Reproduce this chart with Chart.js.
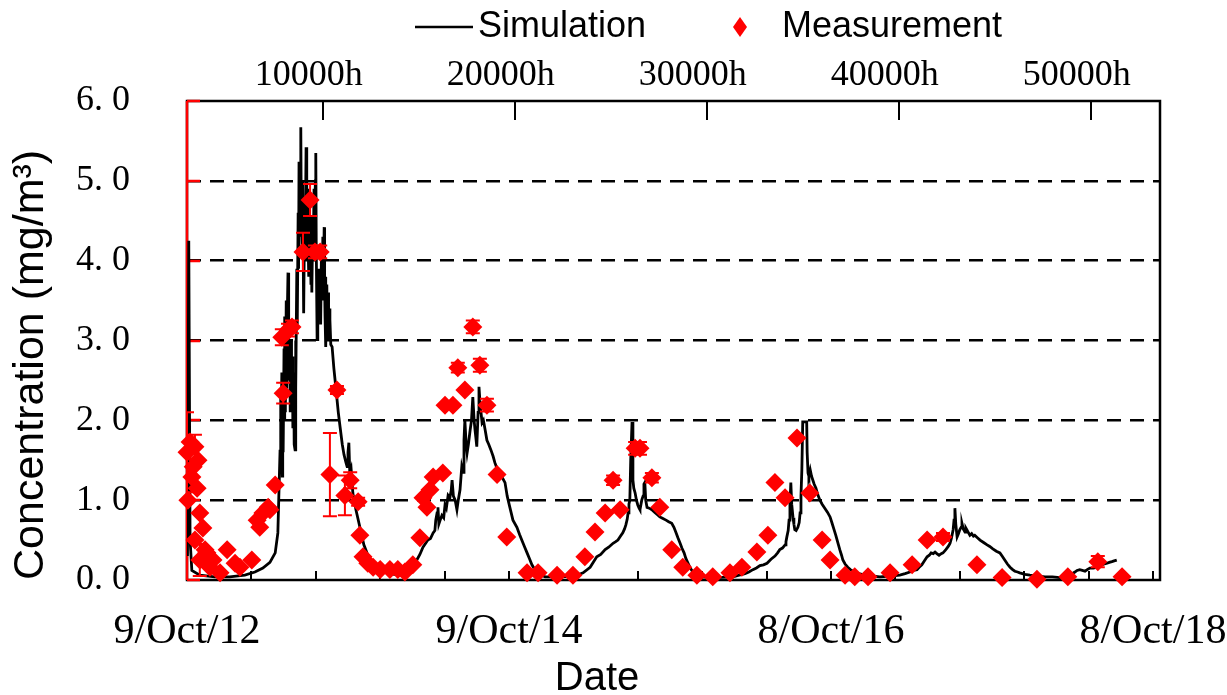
<!DOCTYPE html>
<html>
<head>
<meta charset="utf-8">
<script src="https://cdn.jsdelivr.net/npm/chart.js@4/dist/chart.umd.min.js"></script>
<style>
  html, body { margin: 0; padding: 0; background: #fff; }
  canvas { display: block; }
</style>
</head>
<body>
<canvas id="chart" width="1227" height="695"></canvas>
<script>
// Simulated concentration (days since 9 Oct 2012 -> mg/m3)
const simDays = [
  1, 4, 7, 11, 29, 63, 97, 131, 154, 172, 188, 200, 206,
  211, 212, 213, 215, 216, 217, 218, 220, 221, 222, 223, 225, 226, 227, 229, 230, 231, 233, 234, 236,
  237, 239, 240, 242, 243, 245, 246, 247, 249, 250, 252, 253, 254, 255, 257, 258, 259, 261, 262, 263,
  264, 265, 267, 268, 270, 271, 272, 273, 274, 276, 277, 278, 279, 281, 282, 283, 285, 286, 288, 289,
  291, 292, 293, 295, 296, 297, 299, 300, 302, 303, 305, 306, 308, 309, 311, 312, 313, 314, 315, 317,
  318, 320, 321, 322, 324, 326, 329,
  333, 338, 343, 347, 352, 356, 360, 363, 365, 367, 369, 372, 376, 383, 392, 401, 408, 419,
  438, 460, 483, 506, 521, 528, 535, 540, 546, 552, 558, 562, 564, 567, 569, 571, 574, 578, 582, 585,
  588, 592, 596, 599, 601, 604, 608, 612, 615, 619, 623, 626, 628, 630, 633, 635, 638, 642, 645, 648,
  651, 653, 655, 657, 660, 662, 664, 666, 669, 672, 676, 680, 684, 689, 694, 698, 704, 710, 715, 721,
  726, 732, 739, 748, 754, 759, 765, 771, 777, 782, 793, 812, 846, 880, 898, 914, 929, 938, 948, 956,
  966, 972, 977, 983, 988, 992, 995, 998, 1000, 1002, 1004, 1006, 1009, 1011, 1013, 1016, 1019, 1022, 1025, 1027,
  1031, 1034, 1036, 1038, 1040, 1043, 1048, 1054, 1060, 1066, 1072, 1079, 1086, 1092, 1099, 1104, 1109, 1113, 1118, 1122,
  1127, 1131, 1136, 1141, 1147, 1155, 1163, 1197, 1238, 1252, 1265, 1274, 1283, 1291, 1299, 1307, 1315, 1324, 1333, 1339,
  1344, 1350, 1356, 1358, 1360, 1363, 1365, 1367, 1369, 1371, 1374, 1376, 1378, 1381, 1385, 1388, 1390, 1392, 1394, 1396,
  1400, 1405, 1406, 1408, 1410, 1413, 1416, 1419, 1422, 1426, 1430, 1435, 1440, 1446, 1452, 1458, 1462, 1467, 1471, 1474,
  1477, 1480, 1484, 1487, 1492, 1498, 1504, 1510, 1523, 1537, 1571, 1595, 1616, 1628, 1639, 1647, 1655, 1660, 1666, 1672,
  1678, 1683, 1687, 1692, 1696, 1700, 1705, 1710, 1714, 1719, 1723, 1727, 1730, 1733, 1737, 1739, 1741, 1743, 1746, 1749,
  1752, 1755, 1757, 1760, 1764, 1766, 1768, 1771, 1775, 1779, 1783, 1786, 1792, 1798, 1806, 1814, 1820, 1827, 1835, 1843,
  1848, 1854, 1860, 1866, 1872, 1877, 1883, 1888, 1900, 1911, 1928, 1945, 1962, 1979, 1990, 1997, 2005, 2013, 2018, 2024,
  2030, 2036, 2041, 2047, 2055, 2063, 2068, 2074, 2080, 2086, 2091, 2097, 2102, 2108
];
const simValues = [
  0.30, 4.25, 0.50, 0.12, 0.06, 0.04, 0.04, 0.06, 0.10, 0.15, 0.22, 0.34, 0.59,
  1.63, 2.30, 1.50, 2.60, 1.30, 2.40, 1.60, 2.90, 2.00, 3.30, 2.10, 3.50, 2.40, 3.20, 3.85, 2.50, 3.00, 2.90, 2.10, 3.00,
  2.20, 2.80, 1.90, 2.60, 1.70, 1.63, 3.00, 2.40, 3.90, 3.20, 4.60, 3.90, 5.24, 4.30, 5.10, 5.67, 4.60, 4.13, 5.00, 4.40,
  3.60, 3.34, 4.80, 4.20, 5.42, 4.50, 4.00, 4.90, 4.38, 3.80, 4.70, 3.90, 4.55, 3.70, 4.30, 3.60, 4.40, 4.01, 4.90, 4.20,
  5.00, 5.35, 4.20, 3.01, 3.90, 3.40, 3.90, 3.30, 3.80, 3.20, 4.20, 3.60, 4.30, 3.50, 4.42, 3.70, 3.30, 3.80, 2.92, 3.70,
  3.20, 3.60, 3.00, 3.40, 3.26, 2.95, 2.92,
  2.65, 2.38, 2.10, 1.92, 1.70, 1.57, 1.48, 1.42, 1.60, 1.72, 1.35, 1.40, 1.09, 0.88, 0.66, 0.44, 0.34, 0.21,
  0.13, 0.08, 0.06, 0.10, 0.25, 0.32, 0.41, 0.45, 0.50, 0.52, 0.59, 0.62, 0.75, 0.84, 0.91, 0.70, 0.75, 0.81, 0.78, 0.94,
  0.90, 1.06, 1.03, 1.12, 1.25, 1.05, 1.00, 0.88, 1.00, 1.13, 1.42, 1.35, 1.75, 2.00, 1.69, 1.59, 1.70, 1.88, 2.00, 2.29,
  2.00, 1.88, 1.78, 1.67, 2.10, 2.42, 2.25, 2.13, 1.97, 2.00, 1.88, 1.75, 1.70, 1.63, 1.55, 1.47, 1.38, 1.32, 1.28, 1.22,
  1.05, 0.91, 0.75, 0.66, 0.57, 0.50, 0.42, 0.34, 0.26, 0.19, 0.09, 0.04, 0.04, 0.05, 0.09, 0.16, 0.29, 0.32, 0.38, 0.41,
  0.46, 0.48, 0.50, 0.55, 0.59, 0.64, 0.69, 0.76, 0.84, 0.95, 1.00, 1.50, 1.98, 1.25, 1.15, 1.09, 1.00, 0.94, 0.90, 0.88,
  1.00, 1.05, 1.20, 1.22, 1.00, 0.91, 0.90, 0.88, 0.85, 0.82, 0.79, 0.77, 0.75, 0.73, 0.71, 0.66, 0.59, 0.53, 0.46, 0.40,
  0.34, 0.27, 0.21, 0.15, 0.10, 0.06, 0.04, 0.03, 0.04, 0.06, 0.08, 0.10, 0.13, 0.15, 0.18, 0.19, 0.21, 0.26, 0.30, 0.34,
  0.38, 0.40, 0.44, 0.48, 0.54, 0.62, 0.75, 0.95, 1.22, 0.95, 0.78, 0.70, 0.63, 0.62, 0.66, 0.72, 0.84, 1.05, 1.38, 1.98,
  1.98, 1.98, 1.60, 1.34, 1.30, 1.38, 1.30, 1.25, 1.20, 1.15, 1.07, 1.00, 0.95, 0.90, 0.85, 0.79, 0.72, 0.63, 0.56, 0.50,
  0.44, 0.38, 0.31, 0.25, 0.20, 0.16, 0.13, 0.11, 0.08, 0.06, 0.04, 0.05, 0.06, 0.08, 0.10, 0.12, 0.13, 0.16, 0.19, 0.24,
  0.29, 0.31, 0.34, 0.33, 0.35, 0.33, 0.31, 0.33, 0.34, 0.37, 0.40, 0.43, 0.46, 0.52, 0.63, 0.75, 0.90, 0.70, 0.54, 0.58,
  0.63, 0.66, 0.71, 0.64, 0.60, 0.65, 0.63, 0.60, 0.56, 0.58, 0.55, 0.56, 0.53, 0.50, 0.47, 0.44, 0.42, 0.39, 0.36, 0.34,
  0.30, 0.25, 0.20, 0.16, 0.13, 0.11, 0.10, 0.09, 0.07, 0.06, 0.05, 0.04, 0.04, 0.03, 0.04, 0.05, 0.07, 0.10, 0.12, 0.13,
  0.12, 0.11, 0.13, 0.15, 0.15, 0.16, 0.18, 0.19, 0.20, 0.21, 0.22, 0.23, 0.24, 0.25
];

// Measured concentration with ± error (0 = no bar)
const measDays = [
  0, 2, 7, 11, 14, 18, 18, 23, 25, 29, 29, 36, 41, 45, 52, 59, 75, 91, 109, 120,
  147, 159, 165, 172, 184, 188, 200, 218, 215, 229, 238, 263, 279, 290, 302, 324, 340, 358, 370, 388,
  392, 399, 410, 422, 438, 460, 478, 494, 512, 528, 535, 544, 551, 558, 580, 585, 603, 614, 630, 648,
  664, 680, 703, 725, 771, 796, 839, 875, 902, 925, 948, 966, 982, 1016, 1027, 1054, 1072, 1099, 1124, 1156,
  1192, 1231, 1258, 1292, 1317, 1333, 1356, 1383, 1412, 1440, 1458, 1492, 1514, 1544, 1594, 1644, 1678, 1714, 1791, 1848,
  1927, 1997, 2065, 2120
];
const measValues = [
  1.60, 1.00, 1.73, 1.29, 1.42, 1.67, 0.50, 1.15, 1.50, 0.84, 0.25, 0.65, 0.38, 0.34, 0.16, 0.25, 0.09, 0.38, 0.21, 0.16,
  0.25, 0.75, 0.66, 0.84, 0.91, 0.88, 1.19, 2.34, 3.04, 3.13, 3.17, 4.11, 4.76, 4.11, 4.11, 1.32, 2.38, 1.06, 1.25, 0.98,
  0.56, 0.29, 0.21, 0.16, 0.13, 0.13, 0.13, 0.10, 0.19, 0.53, 1.03, 0.91, 1.13, 1.29, 1.34, 2.19, 2.19, 2.66, 2.38, 3.17,
  2.69, 2.19, 1.32, 0.54, 0.09, 0.09, 0.06, 0.06, 0.29, 0.60, 0.84, 1.25, 0.88, 1.65, 1.65, 1.28, 0.91, 0.38, 0.16, 0.06,
  0.04, 0.09, 0.16, 0.35, 0.56, 1.22, 1.03, 1.78, 1.09, 0.50, 0.25, 0.06, 0.04, 0.04, 0.09, 0.19, 0.50, 0.54, 0.19, 0.03,
  0.01, 0.04, 0.23, 0.04
];
const measErrors = [
  0.50, 0, 0, 0, 0, 0.15, 0, 0, 0, 0, 0.20, 0, 0, 0, 0, 0, 0, 0, 0, 0,
  0, 0, 0, 0, 0, 0, 0, 0.13, 0.10, 0.08, 0.08, 0.24, 0.20, 0.08, 0.08, 0.52, 0.05, 0.25, 0.10, 0.05,
  0, 0, 0, 0, 0, 0, 0, 0, 0, 0, 0, 0, 0, 0, 0, 0, 0, 0.06, 0, 0.08,
  0.08, 0.08, 0, 0, 0, 0, 0, 0, 0, 0, 0, 0.06, 0, 0.08, 0.08, 0.06, 0, 0, 0, 0,
  0, 0, 0, 0, 0, 0, 0, 0, 0, 0, 0, 0, 0, 0, 0, 0, 0, 0.05, 0, 0,
  0, 0, 0.07, 0
];

// Bottom date axis: tick marks every 146 days, labels every two years
const dateTickDays = [0, 146, 292, 438, 584, 730, 876, 1022, 1168, 1314, 1460, 1606, 1752, 1898, 2044, 2190];
const dateLabelDays = [0, 730, 1460, 2190];
const dateLabels = ['9/Oct/12', '9/Oct/14', '8/Oct/16', '8/Oct/18'];

// Top elapsed-time axis
const hourTicks = [10000, 20000, 30000, 40000, 50000];
const hourLabels = ['10000h', '20000h', '30000h', '40000h', '50000h'];

const SERIF = "'Liberation Serif', 'Times New Roman', serif";
const SANS = "'Liberation Sans', Arial, sans-serif";
const RED = '#ff0000';

const decorations = {
  id: 'decorations',
  beforeDatasetsDraw(chart) {
    const { ctx, chartArea: a, scales } = chart;
    ctx.save();
    ctx.lineWidth = 2.5;
    ctx.strokeStyle = '#000';
    ctx.strokeRect(a.left, a.top, a.right - a.left, a.bottom - a.top);
    ctx.lineWidth = 2;
    ctx.beginPath();
    dateTickDays.forEach(d => {
      if (d <= scales.x.min) return;
      const px = Math.round(scales.x.getPixelForValue(d));
      ctx.moveTo(px, a.bottom);
      ctx.lineTo(px, a.bottom - 9);
    });
    hourTicks.forEach(h => {
      const px = Math.round(scales.x2.getPixelForValue(h));
      ctx.moveTo(px, a.top);
      ctx.lineTo(px, a.top + 19);
    });
    ctx.stroke();
    // value axis drawn in red with inward ticks
    ctx.strokeStyle = RED;
    ctx.lineWidth = 2.5;
    ctx.beginPath();
    ctx.moveTo(a.left, a.top);
    ctx.lineTo(a.left, a.bottom);
    scales.y.ticks.forEach(t => {
      const py = Math.round(scales.y.getPixelForValue(t.value));
      ctx.moveTo(a.left, py);
      ctx.lineTo(a.left + 13, py);
    });
    ctx.stroke();
    ctx.restore();
  },
  afterDatasetsDraw(chart) {
    const { ctx, chartArea: a, scales } = chart;
    ctx.save();
    ctx.beginPath();
    ctx.rect(a.left, a.top, a.right - a.left, a.bottom - a.top);
    ctx.clip();
    ctx.strokeStyle = RED;
    ctx.lineWidth = 2;
    ctx.beginPath();
    measDays.forEach((d, i) => {
      const e = measErrors[i];
      if (!e) return;
      const px = scales.x.getPixelForValue(d);
      const y1 = scales.y.getPixelForValue(measValues[i] + e);
      const y2 = scales.y.getPixelForValue(measValues[i] - e);
      ctx.moveTo(px, y1); ctx.lineTo(px, y2);
      ctx.moveTo(px - 7, y1); ctx.lineTo(px + 7, y1);
      ctx.moveTo(px - 7, y2); ctx.lineTo(px + 7, y2);
    });
    ctx.stroke();
    ctx.restore();
  },
  afterDraw(chart) {
    const { ctx } = chart;
    const sim = chart.data.datasets[1];
    const meas = chart.data.datasets[0];
    ctx.save();
    ctx.fillStyle = '#000';
    ctx.textBaseline = 'middle';
    ctx.textAlign = 'left';
    ctx.font = '36px ' + SANS;
    // legend
    ctx.strokeStyle = sim.borderColor;
    ctx.lineWidth = 2.5;
    ctx.beginPath();
    ctx.moveTo(415, 27); ctx.lineTo(473, 27);
    ctx.stroke();
    ctx.fillText(sim.label, 478, 27);
    ctx.fillStyle = meas.backgroundColor;
    ctx.beginPath();
    ctx.moveTo(740, 17); ctx.lineTo(747, 27); ctx.lineTo(740, 37); ctx.lineTo(733, 27);
    ctx.closePath();
    ctx.fill();
    ctx.fillStyle = '#000';
    ctx.fillText(meas.label, 782, 27);
    // date axis title
    ctx.textAlign = 'center';
    ctx.font = '40px ' + SANS;
    ctx.fillText('Date', 597, 679);
    ctx.restore();
  }
};

new Chart(document.getElementById('chart'), {
  type: 'scatter',
  data: {
    datasets: [
      {
        label: 'Measurement',
        data: measDays.map((d, i) => ({ x: d, y: measValues[i] })),
        pointStyle: 'rectRot',
        pointRadius: 9.5,
        pointHoverRadius: 9.5,
        backgroundColor: RED,
        borderColor: RED,
        borderWidth: 0,
        showLine: false,
        clip: false,
        order: 0
      },
      {
        label: 'Simulation',
        type: 'line',
        data: simDays.map((d, i) => ({ x: d, y: simValues[i] })),
        borderColor: '#000',
        borderWidth: 2.8,
        pointRadius: 0,
        tension: 0,
        fill: false,
        order: 1
      }
    ]
  },
  options: {
    responsive: false,
    animation: false,
    layout: { padding: { left: 0, right: 67, top: 0, bottom: 0 } },
    plugins: { legend: { display: false }, tooltip: { enabled: false } },
    scales: {
      x: {
        type: 'linear',
        position: 'bottom',
        min: 0,
        max: 2206,
        afterBuildTicks: s => { s.ticks = dateTickDays.map(v => ({ value: v })); },
        ticks: {
          autoSkip: false,
          maxRotation: 0,
          padding: 27,
          color: '#000',
          font: { family: SERIF, size: 42 },
          callback: v => {
            const k = dateLabelDays.indexOf(v);
            return k >= 0 ? dateLabels[k] : '';
          }
        },
        grid: { display: false, drawTicks: false },
        border: { display: false },
        afterFit: s => { s.height = 115; s.paddingLeft = 0; s.paddingRight = 0; }
      },
      x2: {
        type: 'linear',
        position: 'top',
        min: 2927,
        max: 53604,
        afterBuildTicks: s => { s.ticks = hourTicks.map(v => ({ value: v })); },
        ticks: {
          autoSkip: false,
          maxRotation: 0,
          padding: 4,
          labelOffset: -14,
          color: '#000',
          font: { family: SERIF, size: 36 },
          callback: v => {
            const k = hourTicks.indexOf(v);
            return k >= 0 ? hourLabels[k] : '';
          }
        },
        grid: { display: false, drawTicks: false },
        border: { display: false },
        afterFit: s => { s.height = 101; s.paddingLeft = 0; s.paddingRight = 0; }
      },
      y: {
        min: 0,
        max: 6,
        ticks: {
          stepSize: 1,
          padding: 57,
          color: '#000',
          font: { family: SERIF, size: 36 },
          callback: v => v.toFixed(1).replace('.', '. ')
        },
        grid: {
          drawTicks: false,
          lineWidth: 2.5,
          color: c => (c.tick && c.tick.value > 0 && c.tick.value < 6) ? '#000' : 'rgba(0,0,0,0)'
        },
        border: { display: false, dash: [14, 9] },
        title: {
          display: true,
          text: 'Concentration (mg/m³)',
          align: 'start',
          color: '#000',
          font: { family: SANS, size: 43 },
          padding: { top: 5, bottom: 0 }
        },
        afterFit: s => { s.width = 187; s.paddingTop = 0; s.paddingBottom = 0; }
      }
    }
  },
  plugins: [decorations]
});
</script>
</body>
</html>
